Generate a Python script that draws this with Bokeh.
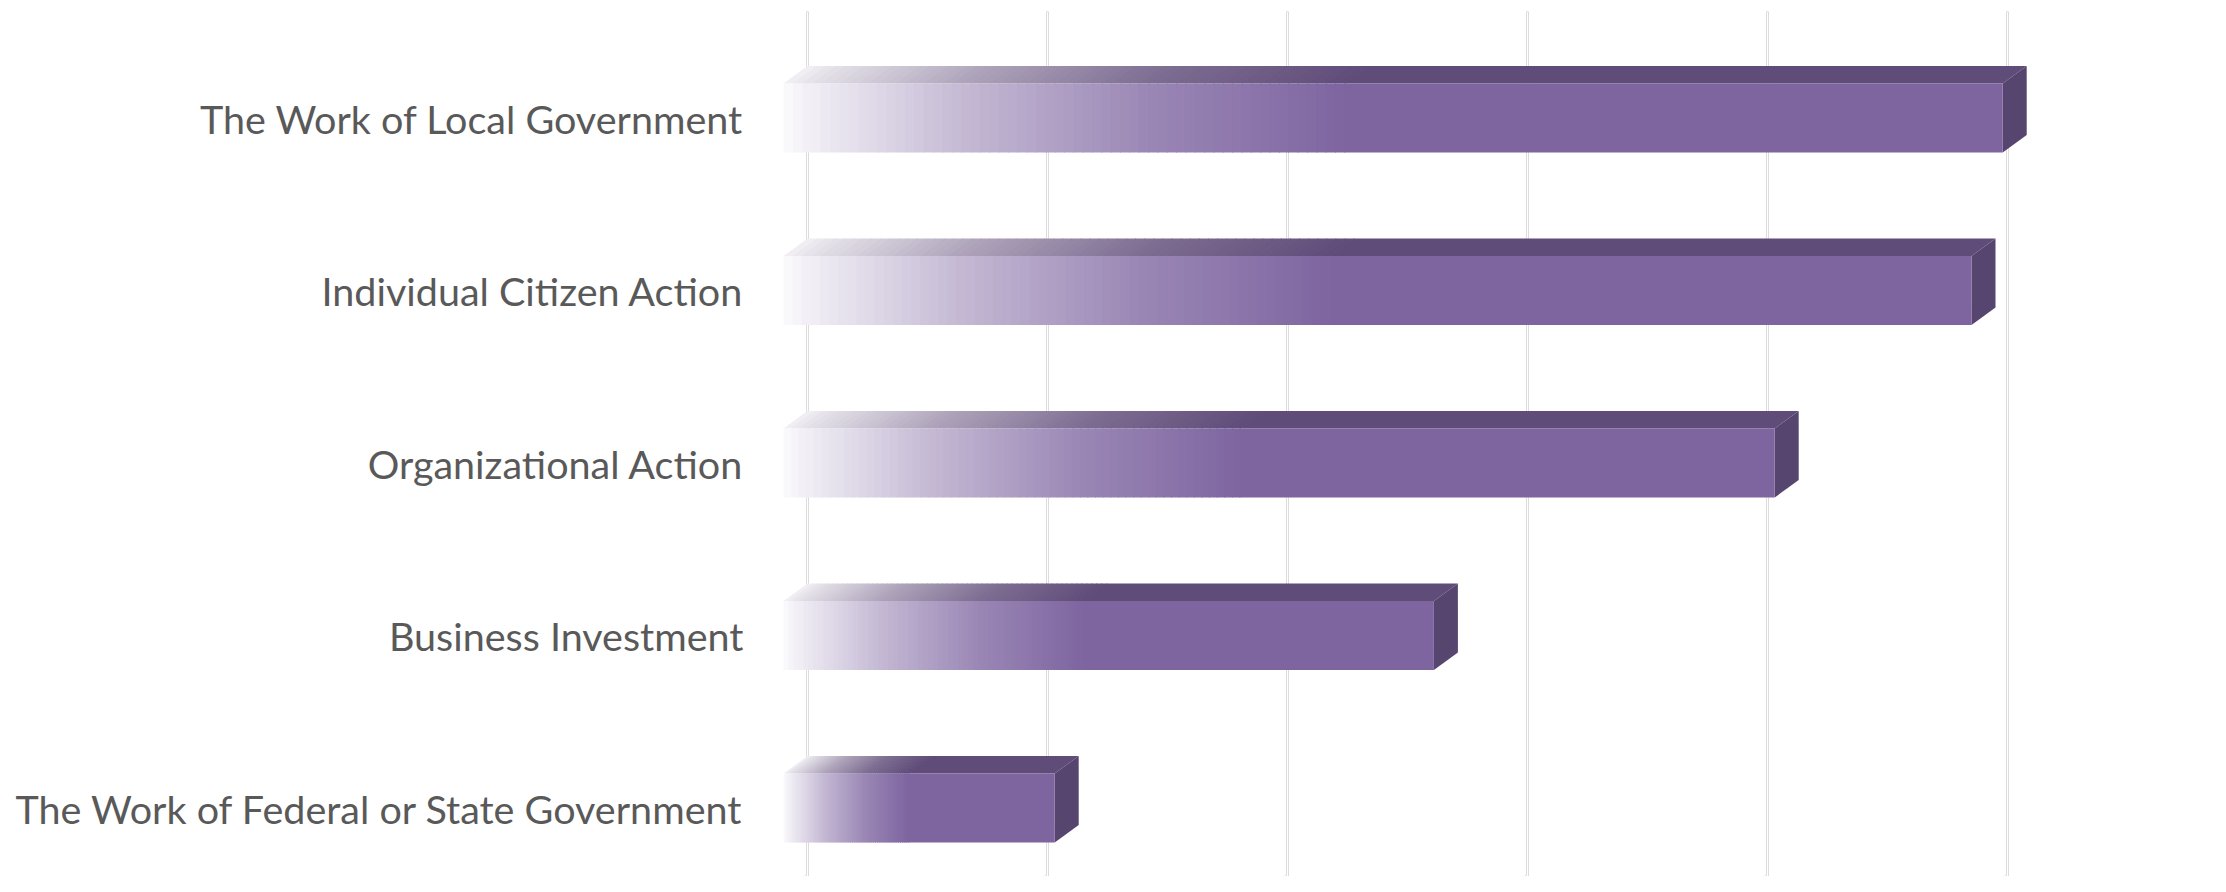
import numpy as np
from bokeh.plotting import figure
from bokeh.models import Range1d
from bokeh.embed import file_html
from bokeh.resources import INLINE
from bokeh.core.properties import value

# ---------------- data ----------------
categories = [
    "The Work of Local Government",
    "Individual Citizen Action",
    "Organizational Action",
    "Business Investment",
    "The Work of Federal or State Government",
]
values = [50.8, 49.5, 41.3, 27.1, 11.3]
grid_values = [0, 10, 20, 30, 40, 50, 60]

# ---------------- style ----------------
FRONT = (126, 101, 160)
TOP = (96, 76, 121)
SIDE = "#56456f"
DX = 1.0        # 3D depth, x (data units)
DY = 0.1014     # 3D depth, y (category units)
HALF = 0.2      # half bar thickness (category units)
RAMP_T = [0.0, 0.02, 0.15, 0.30, 0.46, 1.0]
RAMP_A = [0.03, 0.10, 0.46, 0.78, 1.0, 1.0]
TOP_A = [0.08, 0.16, 0.52, 0.82, 1.0, 1.0]
NSLICE = 60


def blend(rgb, a):
    return "#%02x%02x%02x" % tuple(int(round(255 - a * (255 - c))) for c in rgb)


p = figure(width=2210, height=876, output_backend="svg", toolbar_location=None,
           x_range=Range1d(-32.625, 59.458), y_range=Range1d(4.3971, -0.6812),
           min_border=0, outline_line_color=None,
           background_fill_color="white", border_fill_color="white")
p.axis.visible = False
p.grid.visible = False

# ---------------- gridlines (back wall + floor) ----------------
g_xs, g_ys = [], []
for g in grid_values:
    g_xs.append([g + DX, g + DX, g])
    g_ys.append([-0.6116, 4.391, 4.391 + 0.0986])
p.multi_line(g_xs, g_ys, line_color="#d9d9d9", line_width=3.0, line_cap="round", line_join="miter")
p.multi_line(g_xs, g_ys, line_color="#ffffff", line_width=1.2, line_cap="round", line_join="miter")

# ---------------- 3D bars ----------------
f_l, f_r, f_t, f_b, f_c = [], [], [], [], []
t_xs, t_ys, t_c = [], [], []
s_xs, s_ys = [], []
ov = 0.04
for i, L in enumerate(values):
    yt, yb = i - HALF, i + HALF
    gend = RAMP_T[4] * L
    edges = np.linspace(0.0, gend, NSLICE + 1)
    for a, b in zip(edges[:-1], edges[1:]):
        tm = ((a + b) / 2) / L
        al = float(np.interp(tm, RAMP_T, RAMP_A))
        at = float(np.interp(tm, RAMP_T, TOP_A))
        f_l.append(a); f_r.append(b + ov); f_t.append(yt); f_b.append(yb)
        f_c.append(blend(FRONT, al))
        t_xs.append([a, b + ov, b + ov + DX, a + DX])
        t_ys.append([yt, yt, yt - DY, yt - DY])
        t_c.append(blend(TOP, at))
    f_l.append(gend); f_r.append(L); f_t.append(yt); f_b.append(yb)
    f_c.append(blend(FRONT, 1.0))
    t_xs.append([gend, L, L + DX, gend + DX])
    t_ys.append([yt, yt, yt - DY, yt - DY])
    t_c.append(blend(TOP, 1.0))
    s_xs.append([L, L + DX, L + DX, L])
    s_ys.append([yt, yt - DY, yb - DY, yb])

p.patches(xs=t_xs, ys=t_ys, fill_color=t_c, line_color=None)
p.patches(xs=s_xs, ys=s_ys, fill_color=SIDE, line_color=None)
p.quad(left=f_l, right=f_r, top=f_t, bottom=f_b, fill_color=f_c, line_color=None)

# ---------------- category labels ----------------
p.text(x=[0] * len(categories), y=list(range(len(categories))), text=categories,
       x_offset=-40, text_align="right", text_baseline="middle",
       text_font=value("Lato"), text_font_size="39.5px", text_color="#595959")

open("out.html", "w").write(file_html(p, INLINE))
